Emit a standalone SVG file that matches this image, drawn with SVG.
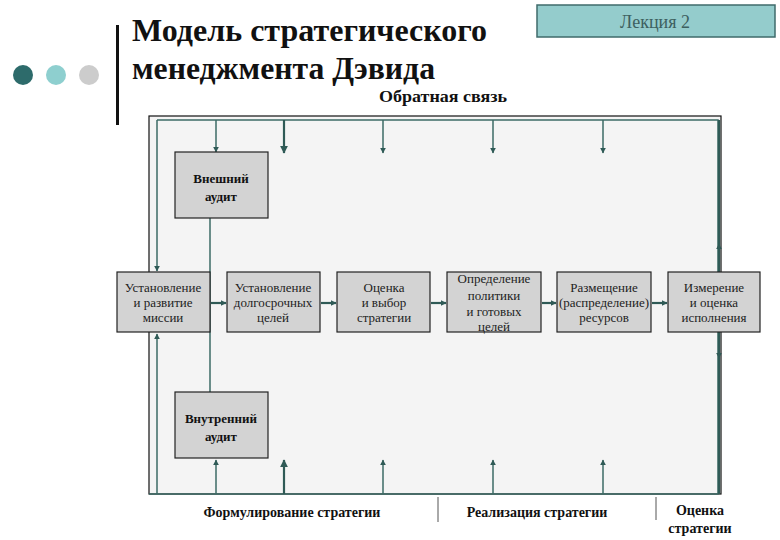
<svg xmlns="http://www.w3.org/2000/svg" width="780" height="540" viewBox="0 0 780 540">
<style>
.box{fill:#d3d3d3;stroke:#222;stroke-width:1.2}
.t{font-family:"Liberation Serif","Times New Roman",serif;font-size:13px;fill:#222;text-anchor:middle}
.b{font-family:"Liberation Serif","Times New Roman",serif;font-size:13px;font-weight:bold;fill:#111;text-anchor:middle}
.l{font-family:"Liberation Serif","Times New Roman",serif;font-size:14px;font-weight:bold;fill:#111;text-anchor:middle}
.c{stroke:#3d6b66;stroke-width:1.5;fill:none}
.c2{stroke:#2f5a56;stroke-width:2.2;fill:none}
</style>
<defs>
<marker id="ah" viewBox="0 0 10 10" refX="9" refY="5" markerWidth="6" markerHeight="6" markerUnits="userSpaceOnUse" orient="auto">
<path d="M0,0 L10,5 L0,10 z" fill="#2f5a56"/>
</marker>
<marker id="ah2" viewBox="0 0 10 10" refX="9" refY="5" markerWidth="8" markerHeight="8" markerUnits="userSpaceOnUse" orient="auto">
<path d="M0,0 L10,5 L0,10 z" fill="#2f5a56"/>
</marker>
</defs>
<rect width="780" height="540" fill="#fff"/>
<g id="header">
<circle cx="23" cy="75" r="10" fill="#2d6b6b"/>
<circle cx="56" cy="75" r="10" fill="#8ecfcf"/>
<circle cx="89" cy="75" r="10" fill="#cccccc"/>
<rect x="116" y="25" width="3" height="100" fill="#111"/>
<text x="132" y="41" font-family="Liberation Serif,serif" font-size="31" font-weight="bold" fill="#111" textLength="355" lengthAdjust="spacingAndGlyphs">Модель стратегического</text>
<text x="132" y="79" font-family="Liberation Serif,serif" font-size="31" font-weight="bold" fill="#111" textLength="303" lengthAdjust="spacingAndGlyphs">менеджмента Дэвида</text>
<rect x="537" y="5" width="238" height="32" fill="#94cccc" stroke="#3f6b6b" stroke-width="1.5"/>
<text x="655" y="28" font-family="Liberation Serif,serif" font-size="18" fill="#3d6060" text-anchor="middle">Лекция 2</text>
<text x="443" y="102" font-family="Liberation Serif,serif" font-size="17" font-weight="bold" fill="#111" text-anchor="middle" textLength="128" lengthAdjust="spacingAndGlyphs">Обратная связь</text>
</g>
<g id="frame">
<rect x="149" y="116" width="572" height="378" fill="#f4f4f4" stroke="#111" stroke-width="1.2"/>
</g>
<g id="connectors">
<path class="c" d="M157,120 H718 V494 H149"/>
<path class="c" d="M157,120 V271" marker-end="url(#ah)"/>
<path class="c" d="M157,494 V334" marker-end="url(#ah)"/>
<path class="c" d="M210,218 V392"/>
<path class="c" d="M216,120 V152" marker-end="url(#ah)"/>
<path class="c2" d="M284,120 V153" marker-end="url(#ah2)"/>
<path class="c" d="M383,120 V153" marker-end="url(#ah)"/>
<path class="c" d="M493,120 V153" marker-end="url(#ah)"/>
<path class="c" d="M603,120 V153" marker-end="url(#ah)"/>
<path class="c" d="M216,494 V460" marker-end="url(#ah)"/>
<path class="c2" d="M284,494 V460" marker-end="url(#ah2)"/>
<path class="c" d="M383,494 V460" marker-end="url(#ah)"/>
<path class="c" d="M493,494 V460" marker-end="url(#ah)"/>
<path class="c" d="M603,494 V460" marker-end="url(#ah)"/>
<path class="c2" d="M719,272 V244" marker-end="url(#ah)"/>
<path class="c2" d="M719,244 V120"/>
<path class="c2" d="M719,332 V358" marker-end="url(#ah)"/>
<path class="c2" d="M719,358 V494"/>
<path class="c2" d="M211,303 H226" marker-end="url(#ah)"/>
<path class="c2" d="M321,303 H336" marker-end="url(#ah)"/>
<path class="c2" d="M431,303 H446" marker-end="url(#ah)"/>
<path class="c2" d="M542,303 H556" marker-end="url(#ah)"/>
<path class="c2" d="M652,303 H667" marker-end="url(#ah)"/>
<path d="M438,497 V522 M656,497 V520" stroke="#555" stroke-width="1"/>
</g>
<g id="ext-audit">
<rect class="box" x="175" y="152" width="93" height="66"/>
<text class="b" x="221" y="183">Внешний</text>
<text class="b" x="221" y="201">аудит</text>
</g>
<g id="int-audit">
<rect class="box" x="175" y="392" width="93" height="66"/>
<text class="b" x="221" y="423">Внутренний</text>
<text class="b" x="221" y="441">аудит</text>
</g>
<g id="mission">
<rect class="box" x="117" y="272" width="93" height="60"/>
<text class="t" x="163" y="292">Установление</text>
<text class="t" x="163" y="307">и развитие</text>
<text class="t" x="163" y="322">миссии</text>
</g>
<g id="goals">
<rect class="box" x="227" y="272" width="93" height="60"/>
<text class="t" x="273" y="292">Установление</text>
<text class="t" x="273" y="307">долгосрочных</text>
<text class="t" x="273" y="322">целей</text>
</g>
<g id="choice">
<rect class="box" x="337" y="272" width="93" height="60"/>
<text class="t" x="384" y="292">Оценка</text>
<text class="t" x="384" y="307">и выбор</text>
<text class="t" x="384" y="322">стратегии</text>
</g>
<g id="policy">
<rect class="box" x="447" y="272" width="94" height="60"/>
<text class="t" x="494" y="283">Определение</text>
<text class="t" x="494" y="300">политики</text>
<text class="t" x="494" y="316">и готовых</text>
<text class="t" x="494" y="331">целей</text>
</g>
<g id="resources">
<rect class="box" x="557" y="272" width="94" height="60"/>
<text class="t" x="604" y="292">Размещение</text>
<text class="t" x="604" y="307">(распределение)</text>
<text class="t" x="604" y="322">ресурсов</text>
</g>
<g id="measure">
<rect class="box" x="668" y="272" width="92" height="60"/>
<text class="t" x="714" y="292">Измерение</text>
<text class="t" x="714" y="307">и оценка</text>
<text class="t" x="714" y="322">исполнения</text>
</g>
<g id="labels">
<text class="l" x="292" y="517">Формулирование стратегии</text>
<text class="l" x="537" y="517">Реализация стратегии</text>
<text class="l" x="700" y="515">Оценка</text>
<text class="l" x="700" y="533">стратегии</text>
</g>
</svg>
